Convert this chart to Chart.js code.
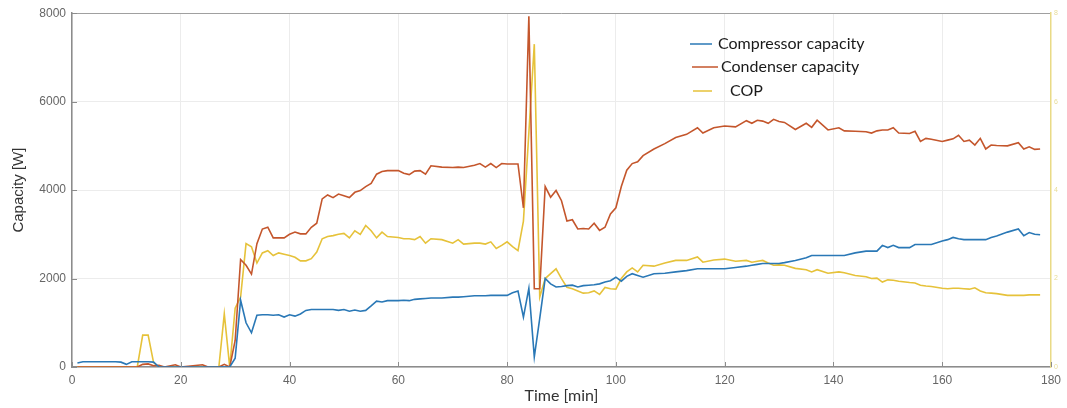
<!DOCTYPE html>
<html>
<head>
<meta charset="utf-8">
<script src="https://cdn.jsdelivr.net/npm/chart.js@4"></script>
<style>
  html, body { margin: 0; padding: 0; background: #ffffff; }
  #wrap { width: 1067px; height: 408px; position: relative; }
</style>
</head>
<body>
<div id="wrap"><canvas id="capChart" width="1067" height="408"></canvas></div>
<script>
// time axis [min]
const minutes = [1,2,5,8,9,10,11,12,13,14,15,16,17,19,20,24,25,27,28,29,30,31,32,33,34,35,36,37,38,39,40,41,42,43,44,45,46,47,48,49,50,51,52,53,54,55,56,57,58,60,61,62,63,64,65,66,68,70,71,72,74,75,76,77,78,79,80,81,82,83,84,85,86,87,88,89,90,91,92,93,94,95,96,97,98,99,100,101,102,103,104,105,107,109,111,113,115,116,118,120,122,124,125,126,127,128,129,130,131,133,135,136,137,139,141,142,144,146,147,148,149,150,151,152,154,155,156,157,158,160,161,162,163,164,165,166,167,168,169,170,172,174,175,176,177,178];

// compressor capacity [W]
const compressor = [90,120,120,120,110,60,120,120,120,120,110,0,0,0,0,0,0,0,0,0,200,1510,1000,773,1170,1180,1180,1170,1180,1130,1180,1150,1200,1280,1300,1300,1300,1300,1300,1280,1300,1260,1290,1260,1280,1380,1490,1470,1500,1500,1510,1500,1530,1540,1550,1560,1560,1580,1580,1590,1610,1610,1610,1620,1620,1620,1620,1680,1720,1130,1780,230,1100,2000,1880,1810,1820,1840,1850,1810,1840,1850,1860,1880,1920,1950,2030,1940,2050,2110,2070,2030,2110,2120,2150,2180,2220,2220,2220,2220,2250,2280,2300,2320,2340,2340,2340,2340,2360,2410,2470,2520,2520,2520,2520,2520,2580,2620,2620,2620,2750,2700,2750,2700,2700,2770,2770,2770,2770,2850,2880,2930,2900,2880,2880,2880,2880,2880,2930,2960,3050,3120,2970,3040,3000,2990];

// condenser capacity [W]
const condenser = [0,0,0,0,0,0,0,0,60,70,30,40,0,50,0,50,0,0,60,0,600,2430,2300,2100,2790,3120,3160,2920,2920,2920,3000,3050,3010,3010,3160,3250,3800,3890,3830,3910,3870,3830,3950,3990,4080,4150,4360,4420,4440,4440,4380,4350,4430,4440,4360,4550,4520,4510,4520,4510,4560,4600,4520,4600,4510,4600,4590,4590,4590,3600,7930,1770,1770,4080,3840,3990,3760,3300,3330,3120,3130,3120,3250,3090,3160,3460,3600,4080,4450,4600,4640,4780,4930,5050,5190,5260,5410,5290,5410,5450,5430,5570,5510,5580,5560,5510,5600,5550,5530,5370,5510,5420,5580,5360,5410,5340,5330,5320,5290,5340,5360,5360,5410,5290,5280,5330,5100,5170,5150,5100,5130,5160,5240,5100,5130,5020,5170,4930,5020,5010,5000,5070,4930,4980,4920,4930];

// coefficient of performance [-] (right axis)
const cop = [0,0,0,0,0,0,0,0,0.72,0.72,0.1,0,0,0,0,0,0,0,1.2,0,1.33,1.58,2.79,2.72,2.35,2.58,2.63,2.52,2.58,2.55,2.52,2.48,2.4,2.4,2.45,2.6,2.9,2.95,2.97,3.0,3.02,2.92,3.08,3.0,3.2,3.08,2.92,3.05,2.95,2.93,2.9,2.9,2.88,2.95,2.8,2.9,2.88,2.8,2.88,2.78,2.8,2.8,2.78,2.83,2.68,2.75,2.83,2.72,2.63,3.3,5.3,7.3,1.58,2.0,2.11,2.22,2.0,1.8,1.77,1.72,1.67,1.68,1.72,1.64,1.8,1.77,1.76,2.0,2.15,2.24,2.15,2.3,2.28,2.35,2.41,2.41,2.49,2.37,2.42,2.44,2.39,2.41,2.37,2.39,2.41,2.35,2.3,2.31,2.3,2.23,2.2,2.15,2.2,2.12,2.15,2.13,2.07,2.04,2.0,2.01,1.92,1.97,1.96,1.94,1.91,1.9,1.85,1.83,1.82,1.78,1.77,1.78,1.78,1.77,1.76,1.79,1.72,1.68,1.67,1.66,1.62,1.62,1.62,1.63,1.63,1.63];

const seriesNames = ['Compressor capacity', 'Condenser capacity', 'COP'];
const seriesColors = ['#2a78b6', '#c4562c', '#e6c23a'];

function points(ys) {
  return minutes.map((t, i) => ({ x: t, y: ys[i] }));
}

// small inward tick marks (MATLAB style)
const inwardTicks = {
  id: 'inwardTicks',
  afterDraw(chart) {
    const ctx = chart.ctx;
    const area = chart.chartArea;
    const xs = chart.scales.x, ys = chart.scales.y;
    ctx.save();
    ctx.strokeStyle = '#8c8c8c';
    ctx.lineWidth = 1;
    ctx.beginPath();
    xs.ticks.forEach(t => {
      const px = Math.round(xs.getPixelForValue(t.value)) + 0.5;
      ctx.moveTo(px, area.bottom);
      ctx.lineTo(px, area.bottom - 5);
    });
    ys.ticks.forEach(t => {
      const py = Math.round(ys.getPixelForValue(t.value)) + 0.5;
      ctx.moveTo(area.left, py);
      ctx.lineTo(area.left + 5, py);
    });
    ctx.stroke();
    ctx.restore();
  }
};

// legend drawn inside the plot, like the original figure
const insideLegend = {
  id: 'insideLegend',
  afterDraw(chart) {
    const ctx = chart.ctx;
    const rows = [
      { x1: 690, x2: 712, tx: 718, y: 44 },
      { x1: 692, x2: 718, tx: 721, y: 67 },
      { x1: 693, x2: 712, tx: 730, y: 91 }
    ];
    ctx.save();
    ctx.font = '16px Lato, "Open Sans", sans-serif';
    ctx.textBaseline = 'middle';
    rows.forEach((r, i) => {
      ctx.strokeStyle = seriesColors[i];
      ctx.lineWidth = 1.5;
      ctx.beginPath();
      ctx.moveTo(r.x1, r.y);
      ctx.lineTo(r.x2, r.y);
      ctx.stroke();
      ctx.fillStyle = '#1a1a1a';
      ctx.fillText(seriesNames[i], r.tx, r.y);
    });
    ctx.restore();
  }
};

new Chart(document.getElementById('capChart').getContext('2d'), {
  type: 'line',
  data: {
    datasets: [
      { label: seriesNames[0], data: points(compressor), borderColor: seriesColors[0], yAxisID: 'y' },
      { label: seriesNames[1], data: points(condenser), borderColor: seriesColors[1], yAxisID: 'y' },
      { label: seriesNames[2], data: points(cop), borderColor: seriesColors[2], yAxisID: 'y1' }
    ]
  },
  options: {
    responsive: false,
    animation: false,
    layout: { padding: { top: 12, left: 0, right: 0, bottom: 0 } },
    elements: {
      line: { borderWidth: 1.6, tension: 0 },
      point: { radius: 0 }
    },
    plugins: {
      legend: { display: false },
      tooltip: { enabled: false }
    },
    scales: {
      x: {
        type: 'linear',
        min: 0,
        max: 180,
        ticks: { stepSize: 20, maxRotation: 0, color: '#666', font: { family: '"Liberation Sans", Arial', size: 12 }, padding: 6, callback: v => String(v) },
        grid: { color: '#ececec', drawTicks: false },
        border: { color: '#8c8c8c', width: 1.5 },
        title: { display: true, text: 'Time [min]', color: '#333', font: { family: 'Lato, "Open Sans"', size: 16 }, padding: { top: 0, bottom: 3 } },
        afterFit(axis) { axis.height = 41; }
      },
      y: {
        position: 'left',
        min: 0,
        max: 8000,
        ticks: { stepSize: 2000, color: '#666', font: { family: '"Liberation Sans", Arial', size: 12 }, padding: 6, callback: v => String(v) },
        grid: { color: ctx => ctx.tick.value === 8000 ? '#a0a0a0' : '#ececec', drawTicks: false },
        border: { color: '#8c8c8c', width: 1.5 },
        title: { display: true, text: 'Capacity [W]', color: '#333', font: { family: '"Liberation Sans", Arial', size: 15 }, padding: { top: 10, bottom: 0 } },
        afterFit(axis) { axis.width = 72; }
      },
      y1: {
        position: 'right',
        min: 0,
        max: 8,
        ticks: { stepSize: 2, color: '#e8dc98', font: { size: 7 }, padding: 3 },
        grid: { display: false, drawTicks: false },
        border: { color: '#e9da86', width: 1.5 },
        afterFit(axis) { axis.width = 10; }
      }
    }
  },
  plugins: [inwardTicks, insideLegend]
});
</script>
</body>
</html>
